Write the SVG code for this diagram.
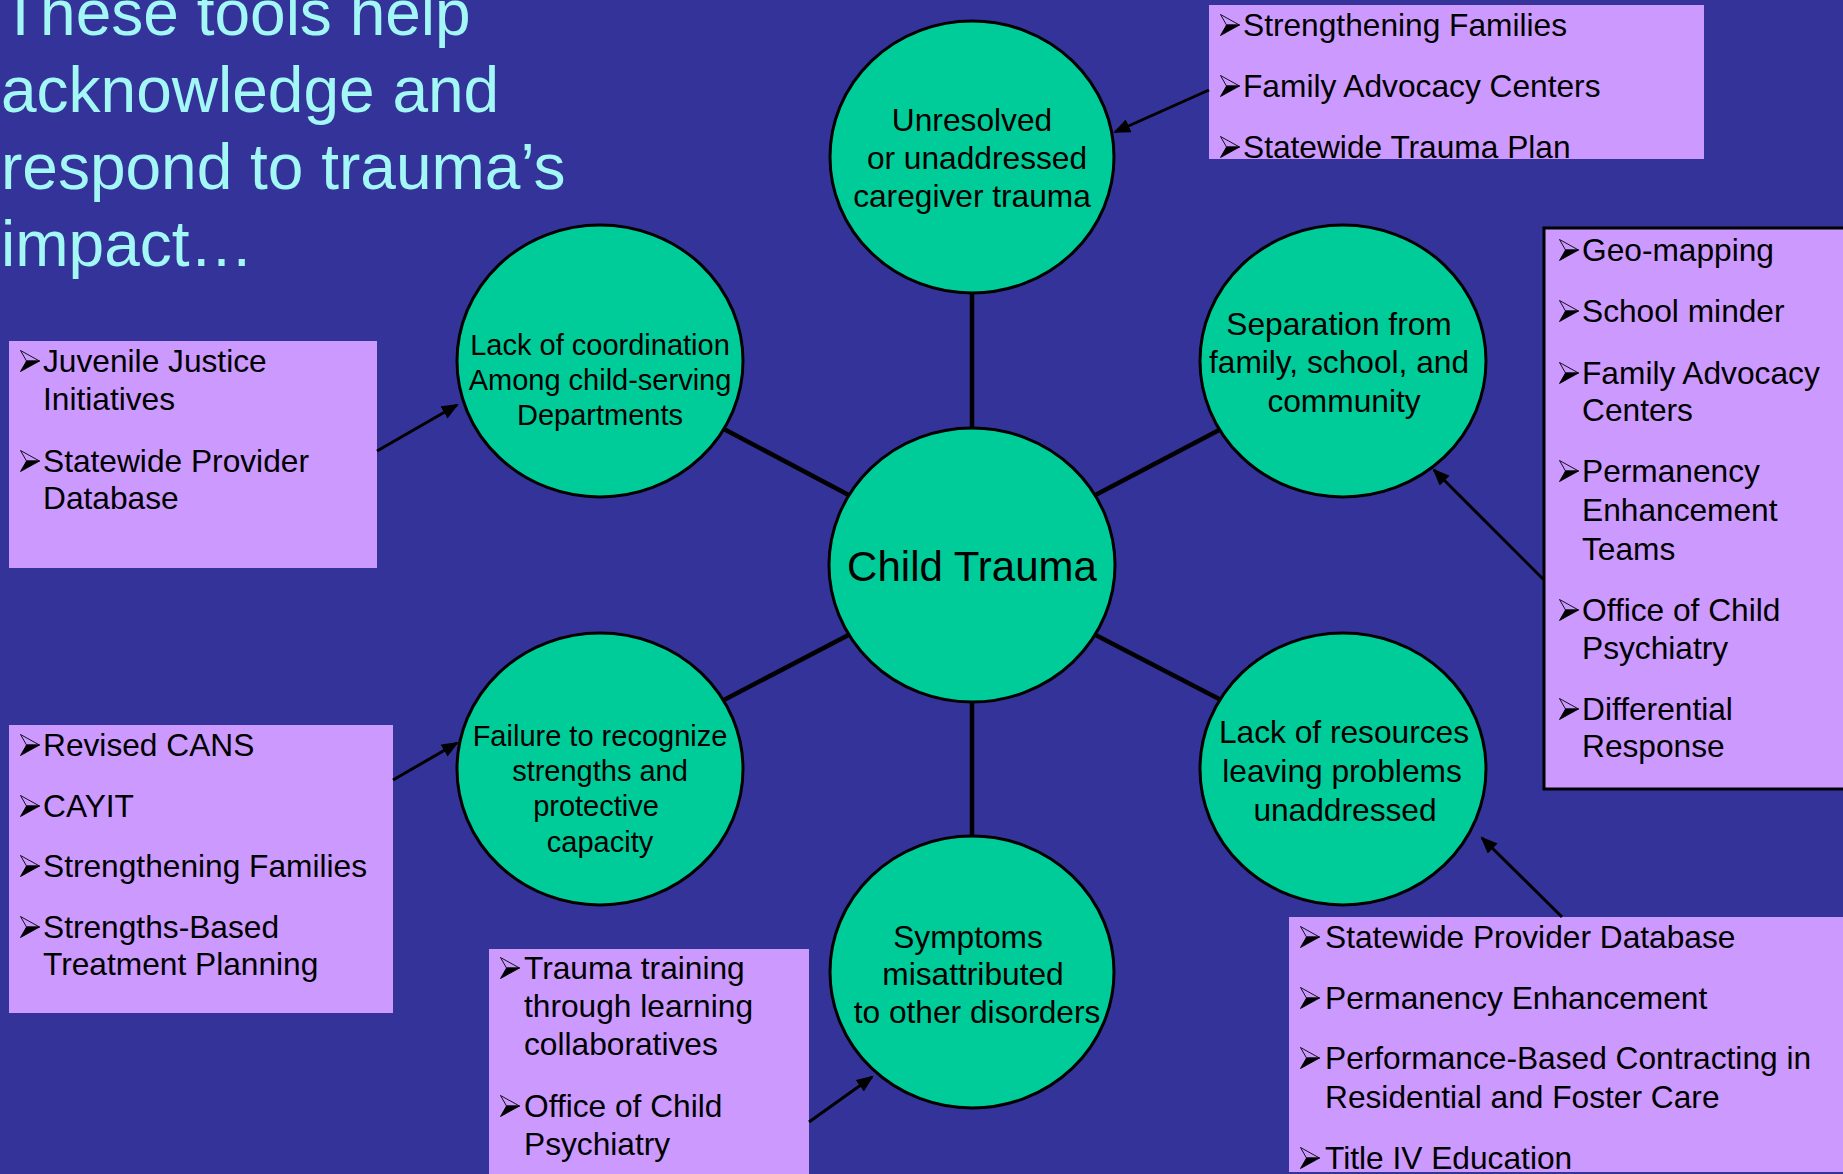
<svg xmlns="http://www.w3.org/2000/svg" xmlns:xlink="http://www.w3.org/1999/xlink" width="1843" height="1174" viewBox="0 0 1843 1174">
<defs>
<style>
.bg{fill:#333399}
.title{font-family:"Liberation Sans",Arial,sans-serif;font-size:64px;fill:#A3F7F5}
.node{fill:#00CC99;stroke:#000;stroke-width:3}
.ct{font-family:"Liberation Sans",Arial,sans-serif;font-size:31.7px;fill:#000;text-anchor:middle}
.ct.sm{font-size:29px}
.ctc{font-family:"Liberation Sans",Arial,sans-serif;font-size:42px;fill:#000;text-anchor:middle}
.box{fill:#CC99FF}
.boxb{fill:#CC99FF;stroke:#000;stroke-width:3}
.bt{font-family:"Liberation Sans",Arial,sans-serif;font-size:31.7px;fill:#000}
.hub{stroke:#000;stroke-width:4.5;fill:none}
.arr{stroke:#000;stroke-width:3;fill:none;marker-end:url(#ah)}
</style>
<marker id="ah" markerUnits="userSpaceOnUse" markerWidth="18" markerHeight="16" refX="15" refY="7" orient="auto">
<path d="M0,0 L17,7 L0,14 z" fill="#000"/>
</marker>
<symbol id="bul" viewBox="0 0 20 22" overflow="visible">
<path d="M0.5,0.5 L19.5,11 L6.5,11 z" fill="none" stroke="#000" stroke-width="0.9"/>
<path d="M6.5,11 L19.5,11 L0.5,21.5 z" fill="#000" stroke="#000" stroke-width="0.9"/>
</symbol>
</defs>
<rect class="bg" x="0" y="0" width="1843" height="1174"/>

<g id="title">
<text class="title" x="1" y="35">These tools help</text>
<text class="title" x="1" y="112">acknowledge and</text>
<text class="title" x="1" y="189">respond to trauma’s</text>
<text class="title" x="1" y="266">impact…</text>
</g>

<g id="connectors">
<line class="hub" x1="972" y1="293" x2="972" y2="440"/>
<line class="hub" x1="722" y1="428" x2="860" y2="501"/>
<line class="hub" x1="1084" y1="501" x2="1223" y2="428"/>
<line class="hub" x1="722" y1="701" x2="860" y2="629"/>
<line class="hub" x1="1084" y1="629" x2="1223" y2="701"/>
<line class="hub" x1="972" y1="690" x2="972" y2="837"/>
</g>

<g id="node-center"><ellipse class="node" cx="972" cy="565" rx="143" ry="137"/><text class="ctc" x="972" y="581">Child Trauma</text></g>

<g id="node-caregiver"><ellipse class="node" cx="972" cy="157" rx="142" ry="136"/>
<text class="ct"><tspan x="972" y="131">Unresolved</tspan><tspan x="977" y="169">or unaddressed</tspan><tspan x="972" y="207">caregiver trauma</tspan></text></g>

<g id="node-coordination"><ellipse class="node" cx="600" cy="361" rx="143" ry="136"/>
<text class="ct sm"><tspan x="600" y="355">Lack of coordination</tspan><tspan x="600" y="390">Among child-serving</tspan><tspan x="600" y="425">Departments</tspan></text></g>

<g id="node-separation"><ellipse class="node" cx="1343" cy="361" rx="143" ry="136"/>
<text class="ct"><tspan x="1339" y="335">Separation from</tspan><tspan x="1339" y="373">family, school, and</tspan><tspan x="1344" y="412">community</tspan></text></g>

<g id="node-strengths"><ellipse class="node" cx="600" cy="769" rx="143" ry="136"/>
<text class="ct sm"><tspan x="600" y="746">Failure to recognize</tspan><tspan x="600" y="781">strengths and</tspan><tspan x="596" y="816">protective</tspan><tspan x="600" y="852">capacity</tspan></text></g>

<g id="node-resources"><ellipse class="node" cx="1343" cy="769" rx="143" ry="136"/>
<text class="ct"><tspan x="1344" y="743">Lack of resources</tspan><tspan x="1342" y="782">leaving problems</tspan><tspan x="1345" y="821">unaddressed</tspan></text></g>

<g id="node-symptoms"><ellipse class="node" cx="972" cy="972" rx="142" ry="136"/>
<text class="ct"><tspan x="968" y="948">Symptoms</tspan><tspan x="973" y="985">misattributed</tspan><tspan x="977" y="1023">to other disorders</tspan></text></g>

<g id="box-caregiver-tools">
<rect class="box" x="1209" y="5" width="495" height="154"/>
<use xlink:href="#bul" x="1220" y="14" width="20" height="22"/>
<use xlink:href="#bul" x="1220" y="75" width="20" height="22"/>
<use xlink:href="#bul" x="1220" y="136" width="20" height="22"/>
<text class="bt"><tspan x="1243" y="36">Strengthening Families</tspan><tspan x="1243" y="97">Family Advocacy Centers</tspan><tspan x="1243" y="158">Statewide Trauma Plan</tspan></text>
</g>

<g id="box-coordination-tools">
<rect class="box" x="9" y="341" width="368" height="227"/>
<use xlink:href="#bul" x="20" y="350" width="20" height="22"/>
<use xlink:href="#bul" x="20" y="450" width="20" height="22"/>
<text class="bt"><tspan x="43" y="372">Juvenile Justice</tspan><tspan x="43" y="410">Initiatives</tspan><tspan x="43" y="472">Statewide Provider</tspan><tspan x="43" y="509">Database</tspan></text>
</g>

<g id="box-separation-tools">
<rect class="boxb" x="1544" y="228" width="310" height="561"/>
<use xlink:href="#bul" x="1559" y="239" width="20" height="22"/>
<use xlink:href="#bul" x="1559" y="300" width="20" height="22"/>
<use xlink:href="#bul" x="1559" y="362" width="20" height="22"/>
<use xlink:href="#bul" x="1559" y="460" width="20" height="22"/>
<use xlink:href="#bul" x="1559" y="599" width="20" height="22"/>
<use xlink:href="#bul" x="1559" y="698" width="20" height="22"/>
<text class="bt"><tspan x="1582" y="261">Geo-mapping</tspan><tspan x="1582" y="322">School minder</tspan><tspan x="1582" y="384">Family Advocacy</tspan><tspan x="1582" y="421">Centers</tspan><tspan x="1582" y="482">Permanency</tspan><tspan x="1582" y="521">Enhancement</tspan><tspan x="1582" y="560">Teams</tspan><tspan x="1582" y="621">Office of Child</tspan><tspan x="1582" y="659">Psychiatry</tspan><tspan x="1582" y="720">Differential</tspan><tspan x="1582" y="757">Response</tspan></text>
</g>

<g id="box-strengths-tools">
<rect class="box" x="9" y="725" width="384" height="288"/>
<use xlink:href="#bul" x="20" y="734" width="20" height="22"/>
<use xlink:href="#bul" x="20" y="795" width="20" height="22"/>
<use xlink:href="#bul" x="20" y="855" width="20" height="22"/>
<use xlink:href="#bul" x="20" y="916" width="20" height="22"/>
<text class="bt"><tspan x="43" y="756">Revised CANS</tspan><tspan x="43" y="817">CAYIT</tspan><tspan x="43" y="877">Strengthening Families</tspan><tspan x="43" y="938">Strengths-Based</tspan><tspan x="43" y="975">Treatment Planning</tspan></text>
</g>

<g id="box-symptoms-tools">
<rect class="box" x="489" y="949" width="320" height="230"/>
<use xlink:href="#bul" x="500" y="957" width="20" height="22"/>
<use xlink:href="#bul" x="500" y="1095" width="20" height="22"/>
<text class="bt"><tspan x="524" y="979">Trauma training</tspan><tspan x="524" y="1017">through learning</tspan><tspan x="524" y="1055">collaboratives</tspan><tspan x="524" y="1117">Office of Child</tspan><tspan x="524" y="1155">Psychiatry</tspan></text>
</g>

<g id="box-resources-tools">
<rect class="box" x="1289" y="917" width="560" height="255"/>
<use xlink:href="#bul" x="1300" y="926" width="20" height="22"/>
<use xlink:href="#bul" x="1300" y="987" width="20" height="22"/>
<use xlink:href="#bul" x="1300" y="1047" width="20" height="22"/>
<use xlink:href="#bul" x="1300" y="1147" width="20" height="22"/>
<text class="bt"><tspan x="1325" y="948">Statewide Provider Database</tspan><tspan x="1325" y="1009">Permanency Enhancement</tspan><tspan x="1325" y="1069">Performance-Based Contracting in</tspan><tspan x="1325" y="1108">Residential and Foster Care</tspan><tspan x="1325" y="1169">Title IV Education</tspan></text>
</g>

<g id="arrows">
<line class="arr" x1="1209" y1="90" x2="1115" y2="132"/>
<line class="arr" x1="377" y1="451" x2="457" y2="405"/>
<line class="arr" x1="1544" y1="580" x2="1434" y2="470"/>
<line class="arr" x1="393" y1="780" x2="457" y2="743"/>
<line class="arr" x1="809" y1="1122" x2="872" y2="1077"/>
<line class="arr" x1="1562" y1="917" x2="1482" y2="838"/>
</g>
</svg>
